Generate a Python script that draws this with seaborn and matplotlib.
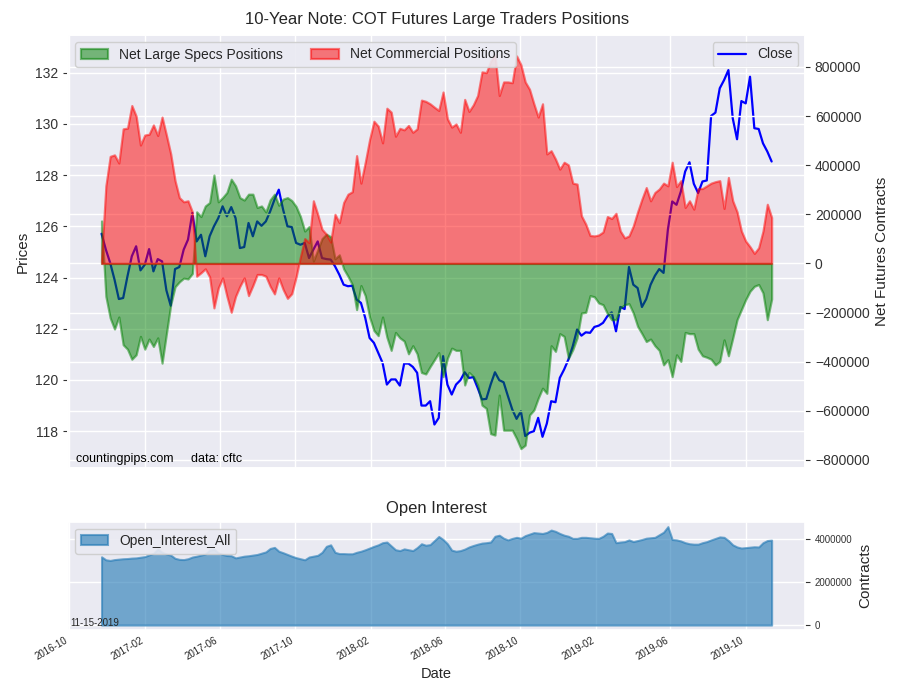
import numpy as np
import pandas as pd
import matplotlib
matplotlib.use("Agg")
import matplotlib.pyplot as plt
import matplotlib.dates as mdates
import matplotlib.ticker as mticker
import seaborn as sns

dates = pd.date_range("2016-11-22", periods=156, freq="7D")

close = [125.71, 125.09, 124.57, 123.92, 123.16, 123.20, 124.05, 124.83, 125.22, 124.28,
         124.50, 125.11, 124.24, 124.72, 124.63, 123.50, 122.90, 124.33, 124.41, 125.09,
         125.48, 126.52, 125.41, 125.67, 124.83, 125.61, 126.00, 126.32, 126.78, 126.39,
         126.75, 126.32, 125.15, 125.19, 126.13, 125.61, 126.19, 126.02, 126.19, 126.58,
         127.04, 127.43, 126.65, 126.00, 125.97, 125.35, 125.28, 125.35, 124.76, 125.09,
         125.41, 124.76, 124.72, 124.70, 124.44, 124.11, 123.72, 123.66, 123.68, 123.14,
         123.01, 122.42, 121.64, 121.45, 121.06, 120.67, 119.82, 120.02, 120.02, 119.78,
         120.64, 120.64, 120.51, 120.28, 119.00, 119.00, 119.17, 118.26, 118.52, 120.93,
         119.82, 119.43, 119.82, 119.99, 120.30, 120.08, 120.11, 119.69, 119.24, 119.26,
         119.82, 120.30, 119.99, 119.91, 119.37, 118.85, 118.48, 118.78, 117.81, 117.94,
         118.00, 118.52, 117.78, 118.30, 119.17, 119.13, 120.08, 120.41, 120.80, 121.32,
         121.97, 121.73, 121.86, 121.84, 122.07, 122.12, 122.23, 122.49, 122.64, 121.90,
         122.85, 122.77, 124.41, 123.72, 123.59, 122.85, 123.16, 123.72, 124.07, 124.33,
         124.18, 125.87, 126.97, 126.84, 127.36, 128.14, 128.50, 127.66, 127.30, 127.75,
         127.79, 130.31, 130.44, 131.39, 131.71, 132.10, 130.22, 129.40, 130.89, 130.80,
         131.84, 129.83, 129.80, 129.24, 128.92, 128.53]

commercial_k = [16, 316, 436, 442, 409, 548, 551, 643, 600, 482,
                523, 526, 564, 521, 596, 523, 446, 337, 268, 251,
                255, 210, -52, -38, -22, -55, -181, -100, -59, -134,
                -199, -134, -93, -59, -131, -90, -45, -45, -52, -93,
                -124, -59, -106, -142, -123, -55, 27, 101, 85, 255,
                200, 139, 119, 87, 200, 166, 248, 282, 292, 439,
                327, 412, 504, 579, 559, 491, 632, 616, 518, 550,
                544, 562, 534, 548, 665, 660, 650, 636, 623, 698,
                589, 555, 568, 534, 668, 619, 646, 684, 780, 777,
                823, 850, 684, 739, 739, 736, 845, 809, 739, 709,
                650, 596, 650, 446, 459, 425, 384, 412, 401, 327,
                323, 194, 160, 114, 112, 116, 128, 191, 183, 204,
                132, 104, 112, 153, 210, 262, 309, 255, 289, 303,
                327, 316, 412, 313, 337, 228, 255, 221, 305, 305,
                316, 327, 333, 337, 224, 350, 255, 210, 132, 91,
                68, 41, 64, 132, 241, 187]

specs_k = [173, -134, -222, -267, -218, -331, -349, -390, -372, -297,
           -349, -308, -338, -303, -406, -286, -168, -95, -75, -60,
           -63, -41, 210, 191, 234, 248, 360, 251, 268, 289,
           343, 316, 268, 258, 282, 282, 228, 234, 210, 259,
           282, 237, 262, 268, 256, 232, 191, 132, 150, 10,
           55, 101, 119, 109, 19, 35, -22, -52, -86, -188,
           -90, -131, -218, -273, -294, -218, -300, -354, -281, -303,
           -316, -368, -335, -368, -444, -450, -420, -392, -363, -461,
           -386, -345, -354, -354, -495, -444, -461, -495, -577, -590,
           -693, -699, -536, -679, -679, -679, -713, -754, -740, -617,
           -597, -549, -508, -529, -335, -358, -286, -297, -386, -351,
           -303, -202, -199, -131, -136, -161, -168, -204, -229, -229,
           -181, -168, -164, -202, -256, -286, -318, -308, -335, -354,
           -413, -392, -461, -372, -399, -281, -286, -286, -349, -376,
           -382, -390, -413, -399, -311, -376, -304, -229, -188, -147,
           -113, -93, -86, -120, -229, -145]

open_interest_m = [3.19, 3.05, 3.02, 3.06, 3.08, 3.10, 3.11, 3.13, 3.14, 3.17,
                   3.20, 3.28, 3.35, 3.55, 3.40, 3.32, 3.27, 3.12, 3.07, 3.06,
                   3.10, 3.18, 3.22, 3.27, 3.32, 3.50, 3.55, 3.38, 3.30, 3.25,
                   3.24, 3.14, 3.18, 3.22, 3.24, 3.27, 3.30, 3.36, 3.42, 3.58,
                   3.63, 3.45, 3.38, 3.30, 3.22, 3.15, 3.10, 3.05, 3.18, 3.22,
                   3.26, 3.40, 3.68, 3.75, 3.40, 3.34, 3.34, 3.33, 3.33, 3.40,
                   3.45, 3.52, 3.60, 3.68, 3.75, 3.85, 3.88, 3.70, 3.52, 3.48,
                   3.56, 3.52, 3.48, 3.62, 3.80, 3.73, 3.76, 3.95, 4.14, 4.00,
                   3.80, 3.50, 3.45, 3.48, 3.55, 3.65, 3.72, 3.78, 3.83, 3.85,
                   3.88, 4.15, 4.20, 4.06, 3.98, 4.05, 4.10, 4.06, 4.18, 4.25,
                   4.32, 4.30, 4.28, 4.33, 4.44, 4.38, 4.28, 4.20, 4.15, 4.05,
                   4.05, 4.10, 4.10, 4.08, 4.06, 4.05, 4.15, 4.30, 4.28, 3.85,
                   3.88, 3.90, 3.98, 3.90, 3.95, 4.00, 4.06, 4.08, 4.10, 4.22,
                   4.34, 4.60, 4.00, 3.98, 3.93, 3.85, 3.80, 3.78, 3.78, 3.85,
                   3.90, 3.98, 4.05, 4.12, 4.10, 3.95, 3.75, 3.65, 3.60, 3.62,
                   3.64, 3.66, 3.65, 3.85, 3.95, 3.97]

df = pd.DataFrame({
    "Date": dates,
    "Close": close,
    "Specs": np.array(specs_k) * 1000,
    "Commercial": np.array(commercial_k) * 1000,
    "Open_Interest_All": np.array(open_interest_m) * 1e6,
})

sns.set_theme(style="darkgrid")
plt.rcParams["font.family"] = ["Liberation Sans", "DejaVu Sans"]
plt.rcParams["axes.unicode_minus"] = True
plt.rcParams["ytick.major.size"] = 3.5
plt.rcParams["ytick.major.width"] = 0.8
plt.rcParams["ytick.color"] = "#333333"
plt.rcParams["xtick.major.size"] = 0

fig = plt.figure(figsize=(9, 7), dpi=100)
ax1 = fig.add_axes([0.0756, 0.331, 0.819, 0.619])
ax2 = ax1.twinx()
ax3 = fig.add_axes([0.0756, 0.100, 0.819, 0.1547], sharex=ax1)

# Price line (underneath the position fills)
sns.lineplot(data=df, x="Date", y="Close", ax=ax1, color="blue", lw=1.6, label="Close")
ax1.set_ylim(116.55, 133.47)
ax1.set_ylabel("Prices", fontsize=11)
ax1.set_xlabel("")
ax1.tick_params(axis="y", labelsize=10)
ax1.tick_params(axis="x", labelbottom=False)
ax1.legend(loc="upper right", fontsize=10, frameon=True, facecolor="#EAEAF2",
           edgecolor="#cccccc", framealpha=0.9)

# Net positions on the twin axis
ax2.fill_between(df["Date"], 0, df["Specs"], color="green", alpha=0.5, lw=1.6,
                 label="Net Large Specs Positions")
ax2.fill_between(df["Date"], 0, df["Commercial"], color="red", alpha=0.5, lw=1.6,
                 label="Net Commercial Positions")
ax2.set_ylabel("Net Futures Contracts", fontsize=11)
ax2.yaxis.set_major_locator(mticker.MultipleLocator(200000))
ax2.yaxis.set_major_formatter(mticker.FuncFormatter(lambda v, p: f"{int(round(v))}".replace("-", "\u2212")))
ax2.tick_params(axis="y", labelsize=10)
ax2.legend(loc="upper left", ncol=2, fontsize=10, frameon=True, facecolor="#EAEAF2",
           edgecolor="#cccccc", framealpha=0.9)
ax2.grid(True, color="white", lw=1)
ax2.text(0.011, 0.015, "countingpips.com     data: cftc", transform=ax2.transAxes,
         fontsize=9, color="black")
ax1.set_title("10-Year Note: COT Futures Large Traders Positions", fontsize=12, pad=8)

# Open interest panel
ax3.fill_between(df["Date"], 0, df["Open_Interest_All"], color="tab:blue", alpha=0.6,
                 lw=1.5, label="Open_Interest_All")
ax3.yaxis.tick_right()
ax3.yaxis.set_label_position("right")
ax3.set_yticks([0, 2000000, 4000000])
ax3.yaxis.set_major_formatter(mticker.FuncFormatter(lambda v, p: f"{int(round(v))}"))
ax3.tick_params(axis="y", labelsize=7)
ax3.set_ylabel("Contracts", fontsize=11)
ax3.set_xlabel("Date", fontsize=10.5)
ax3.set_title("Open Interest", fontsize=12, pad=6)
ax3.legend(loc="upper left", fontsize=10, frameon=True, facecolor="#EAEAF2",
           edgecolor="#cccccc", framealpha=0.9)
ax3.text(0.003, 0.04, "11-15-2019", transform=ax3.transAxes, fontsize=7)

ax3.xaxis.set_major_locator(mdates.MonthLocator(bymonth=[2, 6, 10]))
ax3.xaxis.set_major_formatter(mdates.DateFormatter("%Y-%m"))
for lab in ax3.get_xticklabels():
    lab.set_rotation(30)
    lab.set_ha("right")
    lab.set_fontsize(7)

fig.savefig("out.png", dpi=100)
